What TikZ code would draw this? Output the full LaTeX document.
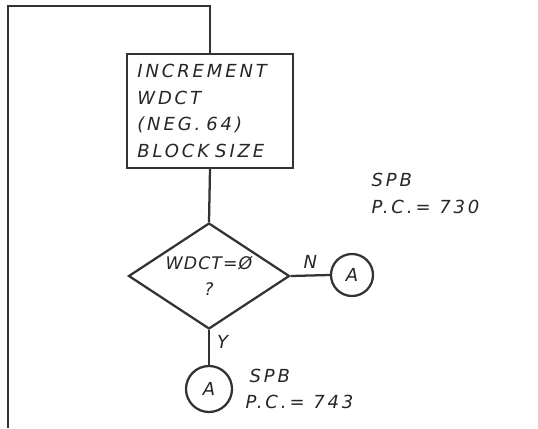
\documentclass[tikz,border=0pt]{standalone}
\usepackage{fontspec}
\newfontfamily\handfont[LetterSpace=16]{DejaVu Sans}
\newfontfamily\handtight[LetterSpace=6]{DejaVu Sans}
\usetikzlibrary{shapes.geometric}

\begin{document}
\begin{tikzpicture}[x=0.75pt, y=-0.75pt, line width=1.7pt, draw=black!80,
        hand/.style={font=\handfont\itshape\fontsize{13.5}{20}\selectfont, text=black!85},
        procbox/.style={rectangle, draw, minimum width=125pt, minimum height=85.5pt,
                  align=left, text width=109pt, inner xsep=8pt, inner ysep=4pt, hand},
        decision/.style={diamond, draw, minimum width=120.75pt, minimum height=79.5pt,
                  aspect=1.5, inner sep=0pt, align=center, hand,
                  font=\handtight\itshape\fontsize{13}{20}\selectfont},
        connector/.style={circle, draw, inner sep=0pt, hand}
    ]
        \useasboundingbox (0,0) rectangle (538,428);
        \node[procbox] (incr) at (210,111) {INCREMENT\\WDCT\\(NEG. 64)\\BLOCK SIZE};
        \node[decision] (test) at (209,276) {WDCT=\O\\?};
        \node[connector, minimum size=31.5pt] (offN) at (352,275) {A};
        \node[connector, minimum size=34.5pt] (offY) at (209,389) {A};
        \coordinate (entry) at (8,428);
        \coordinate (top) at (8,6);

        \draw (entry) -- (top) -| (incr.north);
        \draw (incr.south) -- (test.north);
        \draw (test.east) -- node[hand, above=1pt] (nlab) {N} (offN.west);
        \draw (test.south) -- node[hand, right=2pt, pos=0.35] (ylab) {Y} (offY.north);

        \node[hand, anchor=west] (spbn) at (366,180) {SPB};
        \node[hand, anchor=west] (pcn)  at (366,207) {P.C.\,= 730};
        \node[hand, anchor=west] (spby) at (244,376) {SPB};
        \node[hand, anchor=west] (pcy)  at (240,402) {P.C.\,= 743};
    \end{tikzpicture}
\end{document}
